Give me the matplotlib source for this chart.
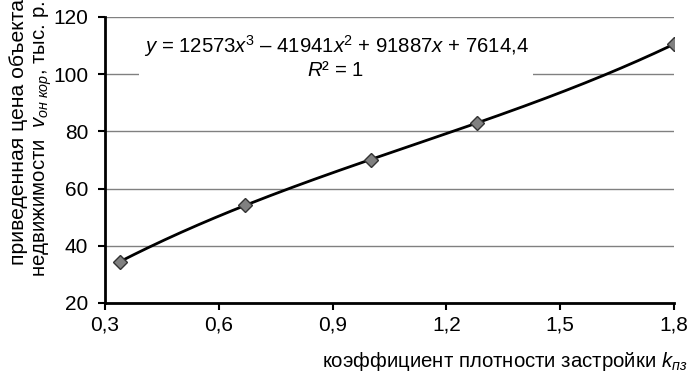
import matplotlib.pyplot as plt
import numpy as np

plt.rcParams['font.family'] = ['Liberation Sans', 'DejaVu Sans']
plt.rcParams['mathtext.fontset'] = 'custom'
plt.rcParams['mathtext.rm'] = 'Liberation Sans'
plt.rcParams['mathtext.it'] = 'Liberation Sans:italic'

# data
k_pz = [0.34, 0.67, 1.0, 1.28, 1.8]
price = [34.5, 54.1, 70.1, 82.9, 110.4]
# trend line coefficients (rubles), plotted in thousands
coef = [12573, -41941, 91887, 7614.4]
x_ticks = [0.3, 0.6, 0.9, 1.2, 1.5, 1.8]
y_ticks = [20, 40, 60, 80, 100, 120]

fig = plt.figure(figsize=(6.93, 3.75), dpi=100)
ax = fig.add_axes([0.1515, 0.192, 0.821, 0.763])

xs = np.linspace(min(k_pz), max(k_pz), 200)
ax.plot(xs, np.polyval(coef, xs) / 1000, color='black', lw=2, zorder=3)
ax.plot(k_pz, price, linestyle='none', marker='D', markersize=7,
        markerfacecolor='#808080', markeredgecolor='#333333', markeredgewidth=1, zorder=4)

ax.set_xlim(0.3, 1.8)
ax.set_ylim(20, 120)
ax.set_xticks(x_ticks)
ax.set_xticklabels([f'{v:.1f}'.replace('.', ',') for v in x_ticks])
ax.set_yticks(y_ticks)
ax.tick_params(labelsize=15, width=1.5, length=5, direction='out', pad=4)
ax.tick_params(axis='y', pad=7)
ax.grid(axis='y', color='#808080', lw=1)
ax.set_axisbelow(True)
for s in ['top', 'right']:
    ax.spines[s].set_visible(False)
for s in ['left', 'bottom']:
    ax.spines[s].set_linewidth(2)

ax.text(0.406, 0.862, '$y$ = 12573$x$$^3$ – 41941$x$$^2$ + 91887$x$ + 7614,4\n$R$² = 1',
        transform=ax.transAxes, ha='center', va='center', fontsize=14.7,
        multialignment='center', linespacing=1.1,
        bbox=dict(facecolor='white', edgecolor='none', pad=3), zorder=2)

fig.text(0.992, 0.035, 'коэффициент плотности застройки $k_{пз}$',
         ha='right', va='center', fontsize=14.7)
fig.text(0.026, 1 - 265 / 375, 'приведенная цена объекта',
         rotation=90, ha='center', va='bottom', fontsize=15.2)
fig.text(0.062, 1 - 277 / 375, 'недвижимости  $v_{он\\ кор}$, тыс. р.',
         rotation=90, ha='center', va='bottom', fontsize=14.7)

plt.savefig('out.png', dpi=100)
